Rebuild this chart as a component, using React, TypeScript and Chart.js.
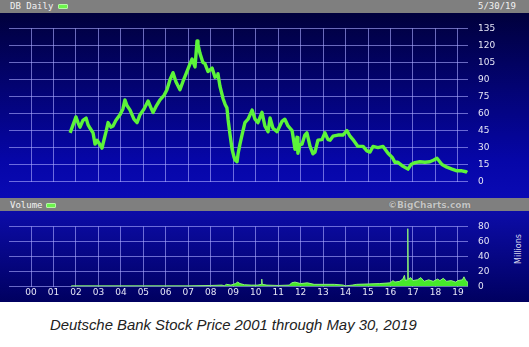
import React, { useEffect, useRef } from 'react';
import { Chart, registerables } from 'chart.js';

Chart.register(...registerables);

// ---- data ----
const priceYears = [
  2001.74, 2001.87, 2002.0, 2002.09, 2002.18, 2002.31, 2002.45, 2002.54, 2002.63, 2002.76,
  2002.85, 2002.94, 2003.07, 2003.16, 2003.25, 2003.34, 2003.43, 2003.56, 2003.65, 2003.78,
  2003.96, 2004.09, 2004.18, 2004.27, 2004.41, 2004.58, 2004.72, 2004.85, 2005.03, 2005.21,
  2005.34, 2005.43, 2005.56, 2005.74, 2005.92, 2006.05, 2006.19, 2006.32, 2006.45, 2006.63,
  2006.76, 2006.94, 2007.08, 2007.17, 2007.3, 2007.39, 2007.43, 2007.52, 2007.65, 2007.74,
  2007.88, 2008.06, 2008.19, 2008.28, 2008.32, 2008.41, 2008.55, 2008.64, 2008.72, 2008.77,
  2008.86, 2008.95, 2009.03, 2009.08, 2009.17, 2009.22, 2009.3, 2009.39, 2009.52, 2009.66,
  2009.84, 2009.97, 2010.1, 2010.28, 2010.41, 2010.55, 2010.64, 2010.77, 2010.95, 2011.17,
  2011.3, 2011.44, 2011.62, 2011.75, 2011.84, 2011.88, 2011.97, 2012.06, 2012.19, 2012.28,
  2012.42, 2012.55, 2012.64, 2012.77, 2012.95, 2013.08, 2013.22, 2013.31, 2013.44, 2013.66,
  2013.88, 2014.06, 2014.2, 2014.33, 2014.55, 2014.78, 2014.95, 2015.09, 2015.22, 2015.44,
  2015.67, 2015.89, 2016.07, 2016.2, 2016.33, 2016.56, 2016.78, 2016.91, 2017.09, 2017.31,
  2017.53, 2017.75, 2017.93, 2018.07, 2018.29, 2018.51, 2018.74, 2018.96, 2019.18, 2019.36,
  2019.41,
];
const priceValues = [
  43, 50, 57, 52, 48, 54, 56, 50, 47, 43,
  33, 36.5, 32.5, 29.5, 37, 44, 52, 48, 49, 54,
  59, 64, 72, 67, 63, 55, 52, 59, 64, 71,
  65, 61, 66, 72, 76, 81, 90, 96, 88, 81,
  88, 97, 104, 108, 101, 124, 121, 113, 105, 104,
  97, 100, 92, 93, 95, 84, 73, 68, 65, 55,
  41, 28.5, 22, 19, 17.5, 25, 33, 41, 52, 55,
  63, 55, 52, 61, 49, 44, 56, 47, 44, 53,
  55, 49, 45, 28.5, 39, 25, 32.5, 33, 41, 43,
  31, 24.5, 26, 36.5, 37, 43, 37, 36.5, 40, 41,
  41, 45, 40, 37, 31, 31, 27, 26, 31, 30,
  31, 25, 21.5, 17, 17, 13.5, 11, 15, 16.7, 17.5,
  17, 17.5, 19, 20.6, 15, 12.7, 11, 9.5, 9.5, 8.7,
  8,
];

const volumeYears = [
  2001.78, 2001.8, 2003.0, 2005.0, 2007.0, 2008.0, 2008.5, 2008.6, 2008.7, 2008.9,
  2009.0, 2009.1, 2009.2, 2009.3, 2009.5, 2009.8, 2010.1, 2010.25, 2010.27, 2010.29,
  2010.5, 2011.0, 2011.5, 2011.6, 2011.75, 2012.0, 2012.3, 2012.6, 2013.0, 2013.5,
  2013.9, 2014.0, 2014.3, 2014.5, 2015.0, 2015.5, 2016.0, 2016.1, 2016.2, 2016.4,
  2016.55, 2016.62, 2016.66, 2016.75, 2016.77, 2016.79, 2016.9, 2017.0, 2017.2, 2017.35,
  2017.5, 2017.7, 2017.9, 2018.1, 2018.2, 2018.35, 2018.5, 2018.7, 2018.9, 2019.0,
  2019.2, 2019.27, 2019.35, 2019.44, 2019.45,
];
const volumeValues = [
  0, 1, 1, 1, 1, 1.5, 2, 1, 3, 2,
  3, 4, 6, 4, 2.5, 2, 2, 3, 10, 3,
  2, 1.5, 2, 5, 6, 4, 5, 3, 3, 3,
  2, 1, 2, 3, 3.5, 4, 5, 8, 6, 7,
  10, 15, 8, 9, 77, 10, 12, 8, 9, 12,
  7, 9, 7, 10, 8, 11, 7, 8, 6, 8,
  9, 13, 8, 6, 0,
];

const yearTicks = [
  2000, 2001, 2002, 2003, 2004, 2005, 2006, 2007, 2008, 2009,
  2010, 2011, 2012, 2013, 2014, 2015, 2016, 2017, 2018, 2019,
];
const priceTicks = [0, 15, 30, 45, 60, 75, 90, 105, 120, 135];
const volumeTicks = [0, 20, 40, 60, 80];

const X_MIN = 1999.02;
const X_MAX = 2019.45;

const GREEN = '#5cf43a';
const GRID = 'rgba(170,170,255,0.62)';
const TICK_COLOR = '#e6e6f6';
const TICK_FONT = { family: 'DejaVu Sans', size: 9 };

function xScale(showLabels: boolean) {
  return {
    type: 'linear' as const,
    min: X_MIN,
    max: X_MAX,
    afterBuildTicks: (axis: any) => {
      axis.ticks = yearTicks.map((v) => ({ value: v }));
    },
    ticks: {
      display: showLabels,
      color: TICK_COLOR,
      font: TICK_FONT,
      padding: 1,
      maxRotation: 0,
      autoSkip: false,
      callback: (v: any) => String(Number(v) % 100).padStart(2, '0'),
    },
    grid: { color: GRID, lineWidth: 1, drawTicks: false },
    border: { display: false },
    afterFit: (s: any) => {
      s.height = showLabels ? 13 : 0;
    },
  };
}

function yScale(min: number, max: number, ticks: number[]) {
  return {
    position: 'right' as const,
    min,
    max,
    afterBuildTicks: (axis: any) => {
      axis.ticks = ticks.map((v) => ({ value: v }));
    },
    ticks: { color: TICK_COLOR, font: TICK_FONT, padding: 10 },
    grid: { color: GRID, lineWidth: 1, drawTicks: false },
    border: { display: false },
    afterFit: (s: any) => {
      s.width = 61;
    },
  };
}

export default function App() {
  const priceRef = useRef<HTMLCanvasElement | null>(null);
  const volRef = useRef<HTMLCanvasElement | null>(null);

  useEffect(() => {
    if (!priceRef.current || !volRef.current) return;
    const price = new Chart(priceRef.current, {
      type: 'line',
      data: {
        datasets: [
          {
            data: priceYears.map((x, i) => ({ x, y: priceValues[i] })),
            borderColor: GREEN,
            borderWidth: 3.4,
            pointRadius: 0,
            tension: 0,
            fill: false,
            borderJoinStyle: 'round',
          },
        ],
      },
      options: {
        animation: false,
        responsive: false,
        maintainAspectRatio: false,
        layout: { padding: { top: 6, bottom: 8, left: 9, right: 0 } },
        plugins: { legend: { display: false }, tooltip: { enabled: false } },
        scales: {
          x: xScale(false) as any,
          y: yScale(0, 135, priceTicks) as any,
        },
      },
    });
    const vol = new Chart(volRef.current, {
      type: 'line',
      data: {
        datasets: [
          {
            data: volumeYears.map((x, i) => ({ x, y: volumeValues[i] })),
            borderColor: '#8cf07a',
            backgroundColor: '#46e82a',
            borderWidth: 1,
            pointRadius: 0,
            tension: 0,
            fill: 'origin',
          },
        ],
      },
      options: {
        animation: false,
        responsive: false,
        maintainAspectRatio: false,
        layout: { padding: { top: 7, bottom: 0, left: 9, right: 0 } },
        plugins: { legend: { display: false }, tooltip: { enabled: false } },
        scales: {
          x: xScale(true) as any,
          y: yScale(0, 80, volumeTicks) as any,
        },
      },
    });
    return () => {
      price.destroy();
      vol.destroy();
    };
  }, []);

  const mono = { fontFamily: '"DejaVu Sans Mono", monospace', fontSize: 9, color: '#f2f2f2', lineHeight: '12px' };
  const swatch = (left: number, top: number) => (
    <div
      style={{
        position: 'absolute',
        left,
        top,
        width: 10,
        height: 5,
        background: '#6cf34c',
        border: '1px solid #b6f7a6',
        boxSizing: 'border-box',
        borderRadius: 1,
      }}
    />
  );

  return (
    <div style={{ position: 'absolute', left: 0, top: 0, width: 529, height: 347, background: '#ffffff', overflow: 'hidden' }}>
      {/* top gray bar */}
      <div style={{ position: 'absolute', left: 0, top: 0, width: 529, height: 13, background: '#7f7f7f' }} />
      <div style={{ position: 'absolute', left: 10, top: 0, ...mono }}>DB Daily</div>
      {swatch(58, 4)}
      <div style={{ position: 'absolute', left: 478, top: 0, ...mono }}>5/30/19</div>
      {/* price panel background */}
      <div
        style={{
          position: 'absolute',
          left: 0,
          top: 13,
          width: 529,
          height: 185,
          background: 'linear-gradient(#00003c, #0606a8 80%, #0a0ab4)',
        }}
      />
      {/* volume gray bar */}
      <div style={{ position: 'absolute', left: 0, top: 198, width: 529, height: 13, background: '#7f7f7f' }} />
      <div style={{ position: 'absolute', left: 10, top: 199, ...mono }}>Volume</div>
      {swatch(46, 203)}
      <div
        style={{
          position: 'absolute',
          left: 388,
          top: 199,
          fontFamily: '"DejaVu Sans", sans-serif',
          fontWeight: 'bold',
          fontSize: 9,
          lineHeight: '12px',
          color: '#c4c4c4',
          textShadow: '0 0 1px #5a5a5a',
        }}
      >
        ©BigCharts.com
      </div>
      {/* volume panel background */}
      <div
        style={{
          position: 'absolute',
          left: 0,
          top: 211,
          width: 529,
          height: 91,
          background: 'linear-gradient(#0c0ca8, #000060)',
        }}
      />
      <div
        style={{
          position: 'absolute',
          left: 518,
          top: 249,
          fontFamily: '"DejaVu Sans", sans-serif',
          fontSize: 8,
          color: '#dcdcf0',
          whiteSpace: 'nowrap',
          transform: 'translate(-50%, -50%) rotate(-90deg)',
        }}
      >
        Millions
      </div>
      <canvas
        ref={priceRef}
        width={529}
        height={184}
        style={{ position: 'absolute', left: 0, top: 13, width: 529, height: 184 }}
      />
      <canvas
        ref={volRef}
        width={529}
        height={91}
        style={{ position: 'absolute', left: 0, top: 211, width: 529, height: 91 }}
      />
      <div
        style={{
          position: 'absolute',
          left: 50,
          top: 317,
          fontFamily: '"Liberation Sans", Arial, sans-serif',
          fontStyle: 'italic',
          fontSize: 14.9,
          color: '#222222',
          whiteSpace: 'nowrap',
        }}
      >
        Deutsche Bank Stock Price 2001 through May 30, 2019
      </div>
    </div>
  );
}
